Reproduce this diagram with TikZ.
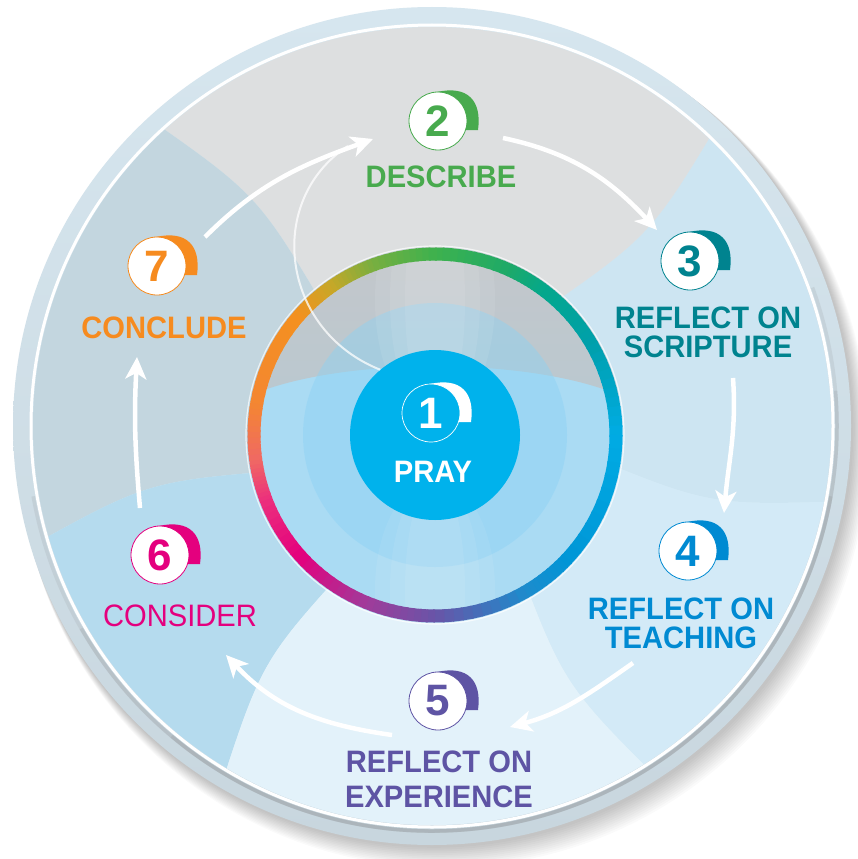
\documentclass[tikz,border=0pt]{standalone}
\usepackage{fontspec}
\setmainfont{Liberation Sans}
\newfontfamily\labfont{Liberation Sans}[FakeStretch=0.94]
\usetikzlibrary{arrows.meta}
\definecolor{cgreen}{RGB}{72,170,78}
\definecolor{cteal}{RGB}{0,131,143}
\definecolor{cblue}{RGB}{0,138,210}
\definecolor{cpurple}{RGB}{94,84,164}
\definecolor{cpink}{RGB}{228,0,126}
\definecolor{corange}{RGB}{246,139,31}
\definecolor{cpray}{RGB}{0,178,236}
\definecolor{rimtop}{RGB}{214,230,239}
\definecolor{rimbot}{RGB}{200,214,222}
\definecolor{rimgrey}{RGB}{165,172,177}
\definecolor{fbase}{RGB}{214,235,246}
\definecolor{wright}{RGB}{205,229,242}
\definecolor{wtop}{RGB}{221,223,224}
\definecolor{wul}{RGB}{195,214,223}
\definecolor{wll}{RGB}{181,219,238}
\definecolor{wbot}{RGB}{227,242,250}
\definecolor{wlr}{RGB}{211,234,247}
\definecolor{ingreyA}{RGB}{196,199,202}
\definecolor{ingreyB}{RGB}{186,200,208}
\definecolor{inbot}{RGB}{170,219,243}
\definecolor{halo}{RGB}{140,210,243}

\newcommand\ringseg[8]{%
 \foreach \k in {0,...,9}{%
  \pgfmathsetmacro\angA{(#1)+((#2)-(#1))*\k/10}%
  \pgfmathsetmacro\angB{(#1)+((#2)-(#1))*(\k+1)/10-0.6}%
  \pgfmathtruncatemacro\myR{(#3)+((#6)-(#3))*(\k+0.5)/10}%
  \pgfmathtruncatemacro\myG{(#4)+((#7)-(#4))*(\k+0.5)/10}%
  \pgfmathtruncatemacro\myB{(#5)+((#8)-(#5))*(\k+0.5)/10}%
  \definecolor{ringc}{RGB}{\myR,\myG,\myB}%
  \draw[ringc,line width=13pt] (435,-435) ++(\angA:181) arc[start angle=\angA,end angle=\angB,radius=181];
 }}
\newcommand\facewedge[3]{\fill[#3] (#1:150) .. controls (#1-6:290) .. (#1:430) arc[start angle=#1,end angle=#2,radius=430] .. controls (#2-6:290) .. (#2:150) -- cycle;}
\newcommand\crescent[2]{\fill[#2] ([shift={(-1,29)}]#1.center) .. controls ([shift={(30,36)}]#1.center) and ([shift={(44,20)}]#1.center) .. ([shift={(40,-9)}]#1.center) -- ([shift={(27.6,-9)}]#1.center) arc[start angle=-18.07,end angle=92,radius=29] -- cycle;}

\begin{document}
\begin{tikzpicture}[x=1pt,y=1pt,
  badgec/.style={circle,minimum size=58pt,inner sep=0pt,fill=white,line width=0.8pt,font=\fontsize{44}{44}\selectfont\bfseries},
  lab/.style={font=\labfont\bfseries\fontsize{31}{29}\selectfont,align=center,inner sep=0pt},
  arr/.style={white,line width=4.5pt,-{Stealth[length=22pt,width=21pt,inset=6pt]}}]
\useasboundingbox (0,0) rectangle (858,-859);
\fill[white] (0,0) rectangle (858,-859);
% shadow
\foreach \i in {1,...,12}{\fill[black,opacity=0.02] (433+\i*0.9,-427-\i*1.3) circle ({419+\i*0.5});}
% rim
\shade[top color=rimtop,bottom color=rimbot] (432,-426) circle (419);
\begin{scope}[shift={(432,-426)}]
 \begin{scope}
  \clip (0,0) circle (399);
  \fill[fbase] (0,0) circle (399);
  \facewedge{-10}{47}{wright}
  \facewedge{47}{133}{wtop}
  \facewedge{133}{197}{wul}
  \facewedge{197}{240}{wll}
  \facewedge{240}{303}{wbot}
  \facewedge{303}{350}{wlr}
 \end{scope}
 \draw[white,line width=3pt] (0,0) circle (401);
 \foreach \o/\s/\e in {0.25/-170/20,0.35/-150/5,0.5/-130/-10}{\draw[rimgrey,line width=3.5pt,opacity=\o] (\s:405) arc[start angle=\s,end angle=\e,radius=405];}
\end{scope}
% inner disc
\begin{scope}
 \clip (435,-435) circle (188);
 \fill[inbot] (435,-435) circle (188);
 \shade[top color=ingreyA,bottom color=ingreyB] (240,-400) .. controls (330,-355) and (540,-355) .. (630,-400) -- (630,-240) -- (240,-240) -- cycle;
 \fill[halo,opacity=0.45] (435,-435) circle (132);
 \foreach \w in {30,45,60}{\fill[white,opacity=0.08] (435,-300) ellipse ({\w} and 120);}
 \foreach \w in {30,45,60}{\fill[white,opacity=0.07] (435,-590) ellipse ({\w} and 110);}
\end{scope}
\draw[white,opacity=0.7,line width=1.2pt] (435,-435) circle (189);
% colour ring
\ringseg{90}{66}{62}{178}{78}{30}{170}{105}
\ringseg{66}{53}{30}{170}{105}{5}{168}{140}
\ringseg{53}{30}{5}{168}{140}{0}{160}{172}
\ringseg{30}{0}{0}{160}{172}{0}{172}{228}
\ringseg{0}{-43}{0}{172}{228}{0}{150}{215}
\ringseg{-43}{-60}{0}{150}{215}{30}{140}{205}
\ringseg{-60}{-90}{30}{140}{205}{105}{85}{168}
\ringseg{-90}{-112}{105}{85}{168}{160}{60}{155}
\ringseg{-112}{-138}{160}{60}{155}{228}{0}{126}
\ringseg{-138}{-159}{228}{0}{126}{236}{48}{125}
\ringseg{-159}{-172}{236}{48}{125}{240}{105}{100}
\ringseg{-172}{-190}{240}{105}{100}{244}{135}{50}
\ringseg{-190}{-221}{244}{135}{50}{244}{145}{32}
\ringseg{-221}{-235}{244}{145}{32}{200}{168}{40}
\ringseg{-235}{-250}{200}{168}{40}{120}{175}{65}
\ringseg{-250}{-270}{120}{175}{65}{62}{178}{78}
% centre
\node[circle,fill=cpray,minimum size=170pt,inner sep=0pt] (pray) at (435,-435) {};
% arrows
\coordinate (a72s) at (205,-237); \coordinate (a72e) at (373,-139);
\coordinate (a12e) at (348,-146);
\coordinate (a23s) at (503,-138); \coordinate (a23e) at (657,-230);
\coordinate (a34s) at (733,-378); \coordinate (a34e) at (724,-513);
\coordinate (a45s) at (633,-663); \coordinate (a45e) at (510,-727);
\coordinate (a56s) at (392,-735); \coordinate (a56e) at (226,-655);
\coordinate (a67s) at (140,-508); \coordinate (a67e) at (137,-357);
\draw[white,opacity=0.75,line width=2pt] (pray.130) .. controls (280,-330) and (265,-200) .. (a12e);
\draw[arr] (a72s) to[out=45,in=200] (a72e);
\draw[arr] (a23s) to[out=-12,in=133] (a23e);
\draw[arr] (a34s) to[out=-86,in=85] (a34e);
\draw[arr] (a45s) to[out=-145,in=15] (a45e);
\draw[arr] (a56s) to[out=172,in=-47] (a56e);
\draw[arr] (a67s) to[out=95,in=-93] (a67e);
% badges
\node[badgec,fill=none,draw=white,text=white,line width=0.7pt] (b1) at (431,-413) {1};
\crescent{b1}{white}
\node[badgec,draw=cgreen,text=cgreen] (b2) at (438,-121) {2};
\crescent{b2}{cgreen}
\node[badgec,draw=cteal,text=cteal] (b3) at (690,-261) {3};
\crescent{b3}{cteal}
\node[badgec,draw=cblue,text=cblue] (b4) at (688,-551) {4};
\crescent{b4}{cblue}
\node[badgec,draw=cpurple,text=cpurple] (b5) at (438,-701) {5};
\crescent{b5}{cpurple}
\node[badgec,draw=cpink,text=cpink] (b6) at (160,-555) {6};
\crescent{b6}{cpink}
\node[badgec,draw=corange,text=corange] (b7) at (157,-266) {7};
\crescent{b7}{corange}
% labels
\node[lab,text=white] (l1) at (433,-472) {PRAY};
\node[lab,text=cgreen] (l2) at (441,-177) {DESCRIBE};
\node[lab,text=cteal] (l3) at (708,-332) {REFLECT ON\\SCRIPTURE};
\node[lab,text=cblue] (l4) at (681,-623) {REFLECT ON\\TEACHING};
\node[lab,text=cpurple,font=\labfont\bfseries\fontsize{31}{35}\selectfont] (l5) at (439,-779) {REFLECT ON\\EXPERIENCE};
\node[lab,text=cpink,font=\labfont\fontsize{31}{29}\selectfont] (l6) at (180,-616) {CONSIDER};
\node[lab,text=corange] (l7) at (164,-328) {CONCLUDE};
\end{tikzpicture}
\end{document}
